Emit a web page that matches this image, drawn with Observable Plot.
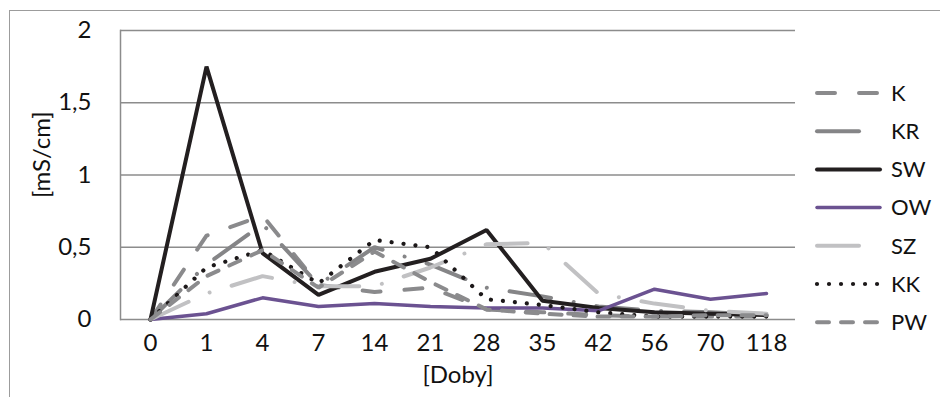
<!DOCTYPE html>
<html>
<head>
<meta charset="utf-8">
<script src="https://cdn.jsdelivr.net/npm/d3@7"></script>
<script src="https://cdn.jsdelivr.net/npm/@observablehq/plot@0.6"></script>
<style>
  html, body { margin: 0; padding: 0; background: #fff; }
  #wrap { position: relative; width: 940px; height: 397px; overflow: hidden; font-family: Lato, "Open Sans", sans-serif; }
  #bt { position: absolute; left: 9px; top: 10px; width: 931px; height: 0; border-top: 1.5px solid #9c9c9c; }
  #bl { position: absolute; left: 9px; top: 10px; width: 0; height: 387px; border-left: 1.5px solid #9c9c9c; }
  #chart { position: absolute; left: 0; top: 0; }
</style>
</head>
<body>
<div id="wrap"><div id="bt"></div><div id="bl"></div><div id="chart"></div></div>
<script>
const days = ["0", "1", "4", "7", "14", "21", "28", "35", "42", "56", "70", "118"];
const seriesNames = ["K", "KR", "SW", "OW", "SZ", "KK", "PW"];
const K  = [0, 0.58, 0.72, 0.24, 0.19, 0.22, 0.07, 0.05, 0.03, 0.02, 0.02, 0.02];
const KR = [0, 0.38, 0.66, 0.24, 0.50, 0.38, 0.22, 0.16, 0.09, 0.06, 0.05, 0.03];
const SW = [0, 1.75, 0.46, 0.17, 0.33, 0.42, 0.62, 0.13, 0.08, 0.05, 0.04, 0.03];
const OW = [0, 0.04, 0.15, 0.09, 0.11, 0.09, 0.08, 0.08, 0.06, 0.21, 0.14, 0.18];
const SZ = [0, 0.18, 0.30, 0.23, 0.23, 0.36, 0.52, 0.53, 0.18, 0.11, 0.06, 0.04];
const KK = [0, 0.36, 0.48, 0.25, 0.55, 0.50, 0.14, 0.10, 0.05, 0.02, 0.02, 0.02];
const PW = [0, 0.30, 0.48, 0.22, 0.47, 0.26, 0.07, 0.04, 0.02, 0.02, 0.03, 0.03];
const yTicks = [0, 0.5, 1, 1.5, 2];
const xLabel = "[Doby]";
const yLabel = "[mS/cm]";

const values = {K, KR, SW, OW, SZ, KK, PW};
const styles = {
  K:  {stroke: "#8a8a8c", width: 4,   dash: "18,24"},
  KR: {stroke: "#858587", width: 4,   dash: "42,23,0.01,23"},
  SW: {stroke: "#231f20", width: 4,   dash: null},
  OW: {stroke: "#6b5291", width: 3.5, dash: null},
  SZ: {stroke: "#c1c1c3", width: 4,   dash: "42,23,0.01,23"},
  KK: {stroke: "#1c1819", width: 4.2, dash: "0.01,12"},
  PW: {stroke: "#8b8b8d", width: 4,   dash: "12,12"}
};

const fmt = v => String(v).replace(".", ",");
const FS = 24;
const FONT = "Lato, 'Open Sans', sans-serif";

const lineMarks = seriesNames.map(name => {
  const data = days.map((d, i) => ({day: d, value: values[name][i]}));
  const s = styles[name];
  return Plot.line(data, {
    x: "day", y: "value",
    stroke: s.stroke, strokeWidth: s.width,
    strokeDasharray: s.dash || undefined,
    strokeLinecap: "round", strokeLinejoin: "miter"
  });
});

const plot = Plot.plot({
  width: 940,
  height: 397,
  marginLeft: 120,
  marginRight: 145,
  marginTop: 30,
  marginBottom: 78,
  style: {fontFamily: FONT, fontSize: FS + "px", color: "#111", background: "transparent"},
  x: {type: "point", domain: days, padding: 0.5},
  y: {domain: [0, 2]},
  marks: [
    Plot.gridY(yTicks.filter(t => t > 0), {stroke: "#8c8c8c", strokeOpacity: 1, strokeWidth: 1.3}),
    Plot.ruleY([0], {stroke: "#8c8c8c", strokeWidth: 1.5}),
    Plot.frame({anchor: "left", stroke: "#8c8c8c", strokeWidth: 1.5}),
    Plot.axisY({ticks: yTicks, tickSize: 0, tickPadding: 29, tickFormat: fmt, label: null, fontSize: FS}),
    Plot.axisX({tickSize: 0, tickPadding: 14, label: null, fontSize: FS}),
    Plot.text([xLabel], {frameAnchor: "bottom", dy: 63, text: d => d, fontSize: FS}),
    Plot.text([{v: 0.84, t: yLabel}], {y: "v", frameAnchor: "left", dx: -78, rotate: -90, text: "t", fontSize: FS}),
    ...lineMarks
  ]
});
document.getElementById("chart").appendChild(plot);

// Legend (right side)
const svg = d3.select(plot);
const lg = svg.append("g").attr("class", "legend");
seriesNames.forEach((name, i) => {
  const y = 93 + i * 38.2;
  const s = styles[name];
  lg.append("line")
    .attr("x1", 817).attr("x2", 880).attr("y1", y).attr("y2", y)
    .attr("stroke", s.stroke).attr("stroke-width", s.width)
    .attr("stroke-linecap", "round")
    .attr("stroke-dasharray", s.dash || null);
  lg.append("text")
    .attr("x", 891).attr("y", y).attr("dy", "0.35em")
    .attr("text-anchor", "start")
    .attr("font-size", 22).attr("fill", "#111")
    .attr("font-family", FONT)
    .text(name);
});
</script>
</body>
</html>
